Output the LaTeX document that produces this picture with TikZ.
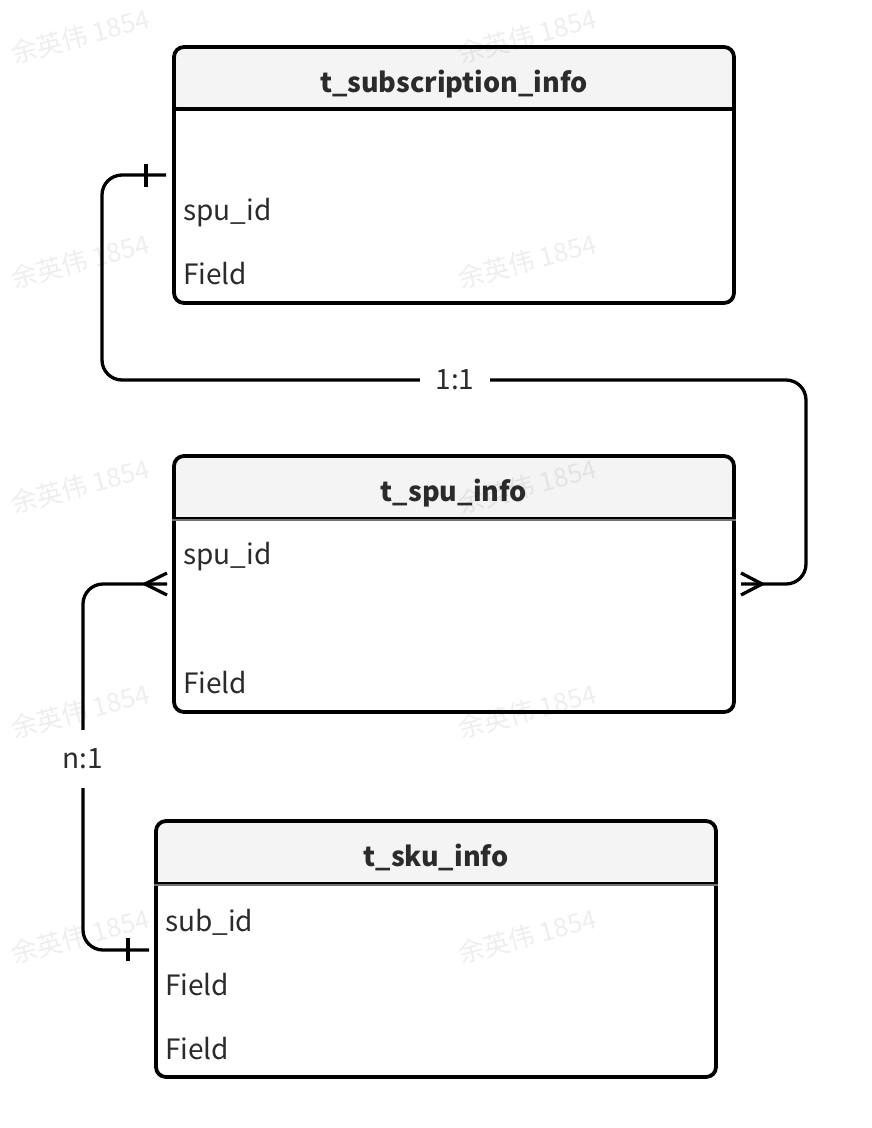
\documentclass[tikz,border=0pt]{standalone}
\usepackage{fontspec}
\setmainfont{Noto Sans CJK SC}
\usetikzlibrary{calc}
\definecolor{ink}{HTML}{2B2B2B}
\definecolor{hdr}{HTML}{F4F4F4}
\begin{document}
\begin{tikzpicture}[x=1pt,y=-1pt,line join=round,
  tbl/.style={draw=black,fill=white,line width=3.8pt,rounded corners=10pt,minimum width=560pt,minimum height=256pt,inner sep=0pt,
    path picture={\fill[hdr] (path picture bounding box.north west) rectangle ([yshift=-64pt]path picture bounding box.north east);}},
  fld/.style={anchor=base west,font=\fontsize{28}{34}\selectfont,text=ink,inner sep=0pt},
  ttl/.style={anchor=base,font=\fontsize{27}{33}\selectfont\bfseries,text=ink,inner sep=0pt},
  conn/.style={line width=3.3pt,rounded corners=20pt},
  tickln/.style={line width=3.3pt},
  lbl/.style={font=\fontsize{28}{34}\selectfont,text=ink,inner sep=0pt},
  wmk/.style={text=black,text opacity=0.065,rotate=15,font=\fontsize{26}{30}\selectfont}
]
\fill[white] (0,0) rectangle (872,1128);
\useasboundingbox (0,0) rectangle (872,1128);

% tables
\node[tbl] (t1) at (454,175) {};
\node[tbl] (t2) at (454,584) {};
\node[tbl] (t3) at (436,949) {};

% header separators
\draw[line width=3.6pt] ([yshift=-64pt]t1.north west) -- ([yshift=-64pt]t1.north east);
\foreach \t in {t2,t3}{
  \draw[line width=4pt,black!55] ([yshift=-65pt]\t.north west) -- ([yshift=-65pt]\t.north east);
  \draw[line width=1.8pt,black] ([yshift=-64pt]\t.north west) -- ([yshift=-64pt]\t.north east);
}

% titles
\node[ttl] (h1) at (454,92) {t\_subscription\_info};
\node[ttl] (h2) at (454,501) {t\_spu\_info};
\node[ttl] (h3) at (436,866) {t\_sku\_info};

% fields
\node[fld] (f11) at (183,220) {spu\_id};
\node[fld] (f12) at (183,284) {Field};
\node[fld] (f21) at (183,564) {spu\_id};
\node[fld] (f22) at (183,693) {Field};
\node[fld] (f31) at (165,931) {sub\_id};
\node[fld] (f32) at (165,995) {Field};
\node[fld] (f33) at (165,1059) {Field};

% labels
\node[lbl,minimum width=70pt,minimum height=30pt] (l11) at (455,380) {1:1};
\node[lbl,minimum width=40pt,minimum height=58pt] (ln1) at (83,759) {n:1};

% connection points
\coordinate (a1) at (166,175);
\coordinate (b1) at (741,584);
\coordinate (a2) at (167,584);
\coordinate (b2) at (149,950);

% connector 1:1
\draw[conn] (a1) -- (102,175) -- (102,380) -- (l11.west);
\draw[conn] (l11.east) -- (806,380) -- (806,584) -- (b1);
\draw[tickln] (146,164) -- (146,187);
\draw[tickln] (741,573) -- (762,584) -- (741,595);

% connector n:1
\draw[conn] (a2) -- (83,584) -- (ln1.north);
\draw[conn] (ln1.south) -- (83,950) -- (b2);
\draw[tickln] (167,573) -- (145,584) -- (167,595);
\draw[tickln] (128,938) -- (128,961);

% watermarks
\foreach \yy in {36,261,486,711,936}{
  \node[wmk] at (80,\yy) {余英伟 1854};
  \node[wmk] at (527,\yy) {余英伟 1854};
}
\end{tikzpicture}
\end{document}
